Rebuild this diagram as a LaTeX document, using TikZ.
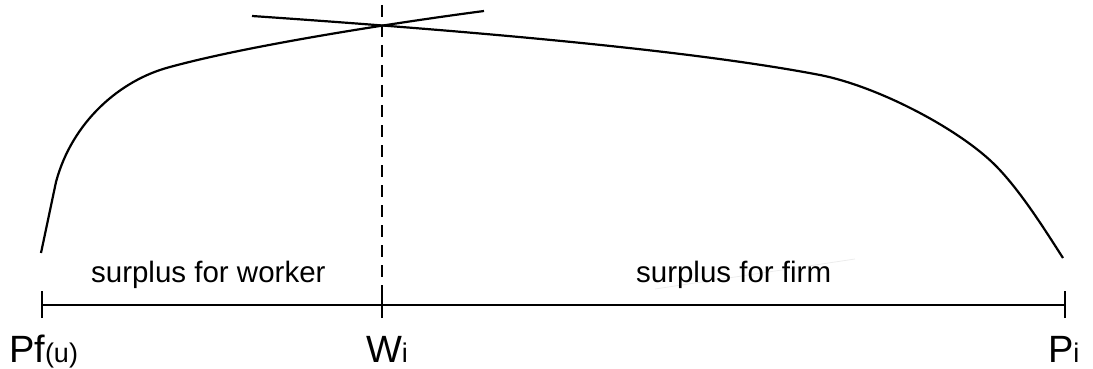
\documentclass[tikz,border=0pt]{standalone}
\usepackage{fontspec}
\setmainfont{Liberation Sans}

\begin{document}
\begin{tikzpicture}[x=1pt,y=-1pt,line width=2.2pt,
  lbl/.style={inner sep=0pt,anchor=base west,font=\fontsize{38}{38}\selectfont},
  surplus/.style={inner sep=0pt,anchor=base west,font=\fontsize{29.5}{30}\selectfont}]
\useasboundingbox (0,0) rectangle (1093,369);
% points on the wage axis
\coordinate (pf) at (42,305);
\coordinate (w) at (382,305);
\coordinate (p) at (1065,305);
\coordinate (wtop) at (382,5);
% axis with ticks
\draw (pf) -- (w) -- (p);
\draw ([yshift=-13]pf) -- ([yshift=14]pf);
\draw ([yshift=-13]w) -- ([yshift=14]w);
\draw ([yshift=-13]p) -- ([yshift=14]p);
\draw[dash pattern=on 12pt off 8pt] (wtop) -- (w);
% worker curve
\draw (41,253) -- (56,182) .. controls (72,122) and (120,80) .. (170,67)
  .. controls (250,45) and (400,22) .. (484,11);
% firm curve
\draw (252,16) .. controls (500,33) and (700,52) .. (820,75)
  .. controls (880,87) and (960,130) .. (995,165)
  .. controls (1020,190) and (1045,230) .. (1063,258);
\draw[gray!15,line width=0.8pt] (655,289) -- (855,259);
% labels
\node[surplus] (sw) at (90,282) {surplus for worker};
\node[surplus] (sf) at (635,282) {surplus for firm};
\node[lbl] (pflab) at (8,362) {Pf{\fontsize{27}{27}\selectfont(u)}};
\node[lbl] (wlab) at (365,362) {W{\fontsize{27}{27}\selectfont i}};
\node[lbl] (plab) at (1047,362) {P{\fontsize{27}{27}\selectfont i}};
\end{tikzpicture}
\end{document}
